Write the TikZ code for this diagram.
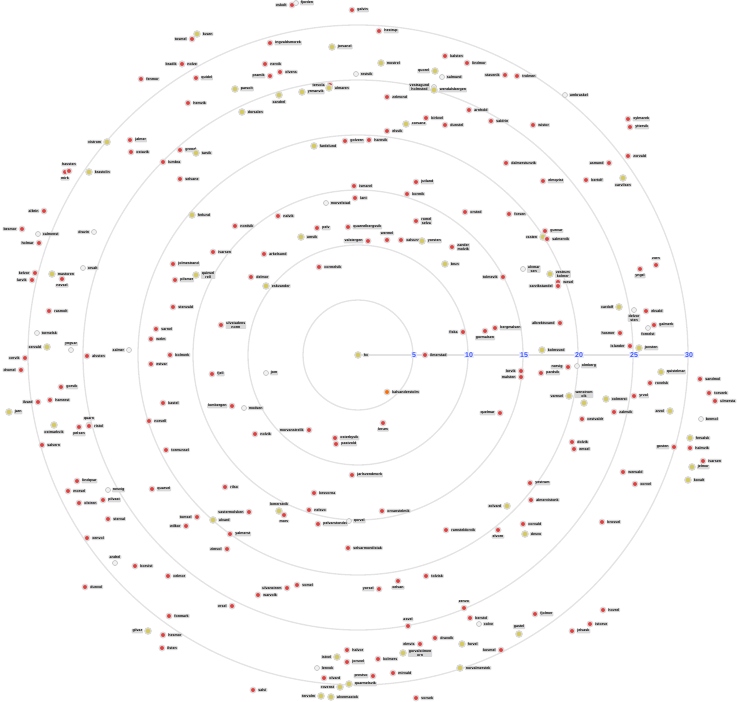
\documentclass[tikz,border=0pt]{standalone}
\usepackage{fontspec}
\setmainfont{Liberation Sans}
\usepackage{tikz}
\usetikzlibrary{positioning}

\definecolor{dotred}{RGB}{228,62,62}
\definecolor{dotyel}{RGB}{212,202,96}
\definecolor{tickblue}{RGB}{60,90,255}

\begin{document}
\begin{tikzpicture}[
        x=1pt, y=-1pt,
        ring/.style={draw=gray!22, line width=1.3pt},
        axisline/.style={draw=gray!22, line width=1.5pt},
        dot/.style={circle, inner sep=0pt, minimum size=5.6pt, line width=1.3pt, draw=gray!28},
        rd/.style={fill=dotred},
        yl/.style={fill=dotyel, minimum size=6.4pt},
        gy/.style={fill=gray!10, draw=gray!45, line width=0.7pt, minimum size=5pt},
        og/.style={fill=orange!85!red},
        lbl/.style={
            fill=gray!30,
            text=black,
            rounded corners=0.8pt,
            inner xsep=0.9pt,
            inner ysep=0.7pt,
            align=center,
            font=\fontsize{3.6}{3.9}\selectfont\bfseries
        },
        tick/.style={
            fill=blue!8,
            text=tickblue,
            inner sep=0.8pt,
            font=\fontsize{7}{7}\selectfont\bfseries
        }
    ]
        \useasboundingbox (0,0) rectangle (737,702);

        % rings
        \coordinate (ctr) at (358,355);
        \foreach \r in {1,...,6}
            \draw[ring] (ctr) circle[radius=55*\r pt];

        % axis with its ticks
        \node[tick] (t1) at (414,355) {5};
        \node[tick] (t2) at (469,355) {10};
        \node[tick] (t3) at (524,355) {15};
        \node[tick] (t4) at (579,355) {20};
        \node[tick] (t5) at (634,355) {25};
        \node[tick] (t6) at (689,355) {30};
        \draw[axisline] (ctr) -- (t1) -- (t2) -- (t3) -- (t4) -- (t5) -- (t6);
        \foreach \k/\v in {1/5,2/10,3/15,4/20,5/25,6/30}
            \node[tick] at (t\k) {\v};

        % points with their labels
        \foreach \x/\y/\c/\s/\t [count=\i] in {
            % upper left
            197/34/yl/right/{kvarn}, 192/39/rd/left/{tosmel},
            182/64/rd/left/{bradik}, 182/64/rd/right/{nolve},
            141/79/rd/right/{fenmor}, 196/78/rd/right/{quidel},
            235/89/yl/right/{parsolt}, 188/103/rd/right/{hemvik},
            242/112/yl/right/{dorsalen}, 107/142/yl/left/{vistrom},
            130/140/rd/right/{jalmer}, 131/152/rd/right/{ostavik},
            180/150/rd/right/{grenel}, 196/153/yl/right/{tarvik},
            163/162/rd/right/{lumbra}, 180/179/rd/right/{selvane},
            65/172/rd/below/{mirk}, 69/171/rd/above/{havsten},
            89/172/yl/right/{krastolin}, 192/215/yl/right/{ferlund},
            235/226/rd/right/{nordvik}, 44/211/rd/left/{albrin},
            22/229/rd/left/{besmor}, 38/234/gy/right/{calmenst},
            94/232/gy/left/{dravin},
            % upper middle
            292/5/rd/left/{eskolt}, 296/3/gy/right/{fjorden},
            352/10/rd/right/{galvin}, 379/31/rd/right/{hestrup},
            270/43/rd/right/{ingvaldsmorek}, 332/47/yl/right/{jorvanel},
            445/56/rd/right/{kalsten}, 467/63/rd/right/{lindmor},
            381/63/yl/right/{mostrel}, 265/64/rd/right/{nervik},
            280/72/rd/right/{olvens}, 270/76/rd/left/{pramik},
            435/71/yl/left/{quorel}, 356/74/gy/right/{restvik},
            442/77/gy/right/{salmund}, 330/85/rd/left/{tervola},
            329/88/yl/right/{ulmaren}, 434/87/gy/left/{vestragund\\holmsted},
            434/90/yl/right/{wendalsbergen}, 279/95/yl/below/{xandrel},
            302/92/yl/right/{yrmanvik}, 387/97/rd/right/{zelmond},
            469/110/rd/right/{arnhold}, 426/118/rd/right/{birkvel},
            406/124/yl/right/{corvane}, 445/125/rd/right/{dunstel},
            387/131/rd/right/{elsvik}, 314/146/yl/right/{fardelund},
            345/141/rd/right/{golvern}, 369/140/rd/right/{harnvik},
            354/186/rd/right/{ismarel}, 416/182/rd/right/{jutland},
            407/194/rd/right/{kormik}, 355/198/rd/right/{lant},
            326/203/gy/right/{morvelstad}, 278/216/rd/right/{nalvik},
            465/212/rd/right/{orsted}, 317/228/rd/right/{pelv},
            348/227/rd/right/{quarnelbergsvik}, 416/221/rd/right/{romel\\selva},
            % upper right
            505/75/rd/left/{stavenik}, 517/76/rd/right/{trolmen},
            565/95/gy/right/{umbraskel}, 491/121/rd/right/{valdrin},
            533/125/rd/right/{wistor}, 628/119/rd/right/{xylmarek},
            630/127/rd/right/{yttervik}, 628/156/rd/right/{zorvald},
            609/163/rd/left/{asmund}, 586/180/rd/right/{bertolf},
            623/178/yl/below/{carvilsen}, 506/163/rd/right/{dalmerstunvik},
            543/181/rd/right/{elmqvist}, 509/214/rd/right/{forsen},
            545/231/rd/right/{gunvar},
            % middle left
            39/243/rd/left/{holmar}, 213/252/rd/right/{ivarsen},
            173/264/rd/right/{jolmestrand}, 35/273/rd/left/{kelvor},
            32/280/rd/left/{larvik}, 52/274/yl/right/{mastoren},
            62/279/rd/below/{nevsel}, 83/268/gy/right/{orvalt},
            175/280/rd/right/{pilsmer}, 196/275/yl/right/{quinvel\\rell},
            49/311/rd/right/{rasmolt}, 173/307/rd/right/{stenvald},
            37/333/gy/right/{tormelsk}, 221/325/rd/right/{ulvstadens\\norm},
            156/329/rd/right/{varnel}, 151/339/rd/right/{welm},
            47/347/yl/left/{xervald}, 71/350/gy/above/{yngvar},
            129/350/gy/left/{zalmer}, 87/356/rd/right/{alvsten},
            170/355/rd/right/{bolmerk}, 25/358/rd/left/{cervik},
            21/370/rd/left/{dromel}, 151/364/rd/right/{estvar},
            212/374/rd/right/{fjell}, 61/387/rd/right/{gorvik},
            50/400/rd/right/{hamrest}, 38/402/rd/left/{ilvard},
            9/412/yl/right/{jarn}, 163/403/rd/right/{kastel},
            232/406/rd/left/{lombergen}, 244/408/gy/right/{modsen},
            149/421/rd/right/{norvell}, 54/425/yl/below/{ostmarkvik},
            79/427/rd/below/{pelsen}, 89/425/rd/above/{quarn},
            89/426/rd/right/{ristol}, 42/445/rd/right/{salvern},
            166/450/rd/right/{tormunsel},
            % centre
            301/237/yl/right/{umvik}, 368/241/rd/left/{valstergen},
            387/240/rd/above/{wermel}, 401/240/rd/right/{xalvund},
            422/241/yl/right/{yorsten}, 452/247/rd/right/{zander\\molvik},
            264/254/rd/right/{arkelsund}, 445/264/yl/right/{brun},
            319/267/rd/right/{cormelvik}, 251/277/rd/right/{delmor},
            266/286/yl/right/{eskvander}, 463/332/rd/left/{fiska},
            485/331/rd/below/{gormalsen}, 358/355/yl/right/{hx},
            425/355/rd/right/{ilmerstad}, 266/373/gy/right/{jom},
            387/392/og/right/{kalvanderstolm}, 383/423/rd/below/{lerum},
            309/430/rd/left/{morvanstrelik}, 255/434/rd/right/{nolvik},
            335/438/rd/right/{osterbyvik}, 336/444/rd/right/{pastvold},
            500/413/rd/left/{quelmar},
            % middle right
            543/237/yl/left/{rasten}, 547/239/rd/right/{salmervik},
            503/277/rd/left/{tolmevik}, 523/269/gy/right/{ulvmar\\sen},
            550/274/yl/right/{vestrum\\kolmer}, 558/282/rd/right/{wesel},
            558/286/rd/left/{xarvikstandel}, 640/269/rd/below/{yngel},
            656/265/rd/above/{zorn}, 560/323/rd/left/{albrektsvand},
            495/328/rd/right/{bergmalsen}, 619/307/yl/left/{cardolf},
            634/310/gy/below/{delvor\\sten}, 646/311/rd/right/{ekvald},
            648/328/gy/below/{fornelst}, 654/325/rd/right/{galmerk},
            620/333/rd/left/{hosmer}, 630/346/rd/left/{islander},
            639/348/yl/right/{jovsten}, 542/350/yl/right/{kolmsved},
            521/371/rd/left/{lorvik}, 521/377/rd/left/{malsten},
            568/367/rd/left/{norvig}, 577/366/gy/right/{olmberg},
            541/373/rd/right/{pardvik}, 661/372/yl/right/{quistelmar},
            650/383/rd/right/{rovelsk}, 700/379/rd/right/{sandmol},
            709/393/rd/right/{torvenk}, 715/401/rd/right/{ulmersta},
            569/396/yl/left/{varnsel}, 584/403/yl/above/{wenstrom\\olk},
            606/399/yl/right/{xolmerst}, 634/396/rd/right/{yrvol},
            614/412/rd/right/{zalmvik}, 670/411/yl/left/{arvol},
            701/419/gy/right/{bermol}, 582/419/rd/right/{cestvaldr},
            572/442/rd/right/{dolvik}, 574/449/rd/right/{emsel},
            690/438/yl/right/{fervalsk}, 674/447/rd/left/{gosten},
            690/448/rd/right/{halmvik}, 703/461/rd/right/{ivarsen},
            692/467/yl/right/{jelmor}, 688/480/yl/right/{kovalt},
            % lower left
            77/481/rd/right/{lindqvar}, 68/491/rd/right/{morsel},
            108/490/gy/right/{nesvig}, 79/503/rd/right/{olstren},
            103/500/rd/right/{pilvast}, 152/489/rd/right/{quarvel},
            225/487/rd/right/{rilso}, 108/519/rd/right/{sterval},
            197/517/rd/left/{tomsel}, 213/520/yl/right/{ulvard},
            249/512/rd/left/{vastermolsken}, 186/526/rd/left/{wilkor},
            87/538/rd/right/{xenvol}, 230/534/rd/right/{yalmerst},
            227/549/rd/left/{zimvol}, 115/563/gy/above/{andrel},
            135/566/rd/right/{borvist}, 168/576/rd/right/{celmor},
            85/587/rd/right/{dunvol}, 232/606/rd/left/{ersel},
            169/616/rd/right/{fonmark}, 148/631/yl/left/{gilvar},
            163/635/rd/right/{hesmor}, 162/648/rd/right/{ilsten},
            % lower middle
            352/475/rd/right/{jarlsvendmork}, 314/493/rd/right/{kesvorna},
            279/511/yl/above/{lomerstvik}, 284/515/rd/below/{morv},
            309/510/rd/right/{nelsvo}, 382/511/rd/right/{orvanstelmik},
            318/524/rd/right/{pelvarstondel}, 349/521/gy/right/{qorvel},
            446/530/rd/right/{ramsteldorvik}, 348/548/rd/right/{selvarmondistak},
            426/576/rd/right/{tolvisk}, 287/588/rd/left/{ulvanstrem},
            297/585/rd/right/{vomel}, 258/595/rd/right/{warvolk},
            398/581/rd/below/{xelvan}, 379/589/rd/left/{yorsel},
            464/608/rd/above/{zenvo}, 408/626/rd/above/{asvel},
            470/618/rd/right/{berstol}, 479/624/gy/right/{colve},
            435/638/rd/right/{dravolk}, 420/644/rd/left/{elmvis},
            462/644/yl/right/{forvel}, 403/653/yl/right/{gorvalstimen\\orn},
            347/650/rd/right/{halvor}, 337/657/yl/left/{istvel},
            347/662/rd/right/{jorsvel}, 378/659/rd/right/{kolmers},
            317/668/gy/right/{lenvok}, 393/673/rd/right/{mirvald},
            460/668/yl/right/{norvalmerstek}, 324/678/rd/right/{olvard},
            373/676/rd/left/{prestvo}, 349/684/yl/right/{quarmelsvik},
            340/687/yl/left/{rovenst}, 253/690/rd/right/{salvi},
            321/696/yl/left/{tervolm}, 331/697/yl/right/{ulvermastok},
            416/698/rd/right/{vorsek},
            % lower right
            623/472/rd/right/{wenvald}, 635/484/rd/right/{xorvel},
            530/483/rd/right/{yestrum}, 507/506/yl/left/{zolvard},
            531/500/rd/right/{almervistonk}, 602/522/rd/right/{brosvel},
            523/524/rd/right/{corvald}, 525/534/yl/right/{desvo},
            498/530/rd/below/{elvorn}, 535/614/rd/right/{fjolmer},
            519/634/yl/above/{gastel}, 603/610/rd/right/{hovrel},
            590/624/rd/right/{istorve}, 572/631/rd/right/{jelvask},
            501/650/rd/left/{kovmel}%
        }{
            \node[dot,\c] (d\i) at (\x,\y) {};
            \node[lbl,\s=0.9pt of d\i] (l\i) {\t};
        }
    \end{tikzpicture}
\end{document}
